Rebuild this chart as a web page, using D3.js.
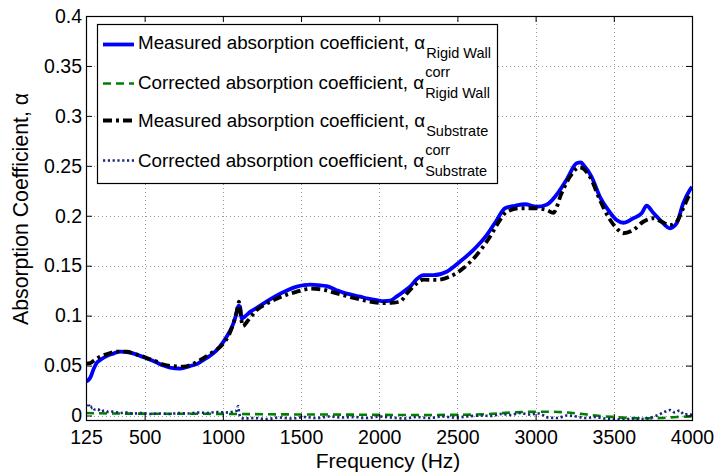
<!DOCTYPE html>
<html>
<head>
<meta charset="utf-8">
<script src="https://cdn.jsdelivr.net/npm/d3@7"></script>
<style>
  html, body { margin: 0; padding: 0; background: #fff; }
  svg { display: block; font-family: "Liberation Sans", Arial, Helvetica, sans-serif; }
</style>
</head>
<body>
<svg id="chart" width="716" height="473"></svg>
<script>
// Absorption coefficient vs frequency: rigid wall and substrate, measured and corrected.

const xTicks = [125, 500, 1000, 1500, 2000, 2500, 3000, 3500, 4000];
const yTicks = [0, 0.05, 0.1, 0.15, 0.2, 0.25, 0.3, 0.35, 0.4];
const yTickLabels = ["0", "0.05", "0.1", "0.15", "0.2", "0.25", "0.3", "0.35", "0.4"];

// Measured absorption coefficient, rigid wall
const freqRigid = [125, 151, 175, 193, 220, 257, 300, 342, 406, 450, 490, 540, 577, 620, 662, 726, 790, 840, 875, 920, 961, 1000, 1025, 1050, 1067, 1085, 1100, 1110, 1121, 1140, 1177, 1220, 1259, 1310, 1367, 1420, 1473, 1520, 1560, 1610, 1664, 1720, 1770, 1820, 1877, 1930, 1984, 2030, 2070, 2110, 2155, 2197, 2240, 2282, 2346, 2431, 2516, 2601, 2687, 2751, 2804, 2868, 2932, 3006, 3070, 3134, 3198, 3262, 3290, 3305, 3358, 3411, 3464, 3518, 3560, 3624, 3678, 3710, 3752, 3806, 3859, 3902, 3944, 3987, 4000];
const alphaRigid = [0.034, 0.0375, 0.047, 0.0525, 0.056, 0.0595, 0.062, 0.064, 0.063, 0.061, 0.0585, 0.0555, 0.053, 0.050, 0.048, 0.047, 0.0495, 0.052, 0.0555, 0.060, 0.0655, 0.073, 0.079, 0.086, 0.092, 0.101, 0.110, 0.109, 0.097, 0.099, 0.104, 0.108, 0.112, 0.117, 0.122, 0.126, 0.129, 0.1305, 0.131, 0.1305, 0.1295, 0.126, 0.123, 0.121, 0.119, 0.117, 0.1155, 0.1145, 0.115, 0.119, 0.124, 0.129, 0.1365, 0.1405, 0.1405, 0.144, 0.154, 0.1655, 0.1805, 0.1955, 0.2075, 0.210, 0.2115, 0.209, 0.211, 0.221, 0.236, 0.2525, 0.2535, 0.251, 0.239, 0.219, 0.2058, 0.1957, 0.193, 0.1975, 0.2025, 0.210, 0.203, 0.194, 0.1875, 0.1925, 0.2125, 0.226, 0.229];

// Corrected absorption coefficient, rigid wall
const freqRigidCorr = [125, 300, 600, 900, 1100, 1300, 1600, 1900, 2200, 2500, 2700, 2850, 3000, 3100, 3200, 3300, 3400, 3500, 3600, 3700, 3800, 3900, 4000];
const alphaRigidCorr = [0.0025, 0.002, 0.0018, 0.0017, 0.0015, 0.0012, 0.001, 0.0008, 0.0005, 0.0007, 0.0015, 0.003, 0.0038, 0.0038, 0.003, 0.0015, -0.0003, -0.0015, -0.0025, -0.0028, -0.0025, -0.0015, -0.001];

// Measured absorption coefficient, substrate
const freqSub = [125, 151, 180, 215, 260, 321, 385, 440, 491, 540, 577, 620, 670, 747, 800, 854, 920, 1003, 1040, 1067, 1090, 1103, 1115, 1127, 1160, 1216, 1280, 1344, 1410, 1473, 1520, 1560, 1642, 1700, 1770, 1830, 1898, 1960, 2026, 2090, 2133, 2176, 2218, 2282, 2367, 2452, 2537, 2623, 2708, 2772, 2815, 2900, 2985, 3070, 3113, 3166, 3219, 3283, 3347, 3411, 3464, 3518, 3560, 3624, 3688, 3752, 3806, 3859, 3902, 3944, 3987, 4000];
const alphaSub = [0.052, 0.0525, 0.0555, 0.059, 0.0615, 0.064, 0.064, 0.0615, 0.059, 0.056, 0.054, 0.051, 0.0495, 0.049, 0.051, 0.0555, 0.062, 0.072, 0.081, 0.092, 0.105, 0.114, 0.100, 0.0895, 0.095, 0.1055, 0.112, 0.117, 0.121, 0.124, 0.126, 0.127, 0.126, 0.1235, 0.1205, 0.118, 0.1155, 0.1135, 0.1125, 0.113, 0.114, 0.122, 0.129, 0.136, 0.1357, 0.139, 0.1474, 0.1607, 0.179, 0.1957, 0.204, 0.2075, 0.2075, 0.2058, 0.203, 0.2225, 0.239, 0.2485, 0.239, 0.2158, 0.199, 0.1875, 0.1825, 0.1857, 0.194, 0.1975, 0.194, 0.1907, 0.194, 0.2075, 0.2208, 0.222];

// Corrected absorption coefficient, substrate
const freqSubCorr = [125, 135, 145, 155, 165, 180, 200, 220, 245, 270, 300, 340, 380, 430, 480, 540, 600, 660, 720, 780, 840, 900, 960, 1020, 1070, 1090, 1097, 1105, 1115, 1140, 1200, 1280, 1360, 1440, 1520, 1600, 1680, 1760, 1840, 1920, 2000, 2080, 2160, 2240, 2320, 2400, 2480, 2560, 2640, 2720, 2780, 2840, 2900, 2960, 3020, 3080, 3140, 3200, 3260, 3320, 3380, 3440, 3500, 3560, 3620, 3680, 3740, 3790, 3830, 3860, 3890, 3920, 3950, 3980, 4000];
const alphaSubCorr = [0.011, 0.008, 0.01, 0.007, 0.009, 0.006, 0.0065, 0.004, 0.005, 0.0035, 0.004, 0.0025, 0.003, 0.002, 0.0025, 0.0015, 0.002, 0.0015, 0.0025, 0.002, 0.003, 0.0025, 0.0035, 0.003, 0.004, 0.005, 0.0095, 0.002, -0.002, -0.003, -0.0025, -0.0035, -0.002, -0.003, -0.0015, -0.0025, -0.001, -0.002, -0.0015, -0.0025, -0.001, -0.002, -0.003, -0.0015, -0.0025, -0.001, -0.002, -0.001, 0.0, -0.0005, 0.0015, 0.0005, 0.0025, 0.001, 0.002, -0.002, -0.0025, 0.0, -0.001, -0.0025, -0.0015, -0.003, -0.0035, -0.004, -0.003, -0.0035, -0.002, 0.001, 0.004, 0.0055, 0.003, 0.005, 0.001, 0.0015, 0.0];

const seriesLabels = [
  "Measured absorption coefficient, \u03b1",
  "Corrected absorption coefficient, \u03b1",
  "Measured absorption coefficient, \u03b1",
  "Corrected absorption coefficient, \u03b1"
];
const seriesSub = ["Rigid Wall", "Rigid Wall", "Substrate", "Substrate"];
const seriesSup = ["", "corr", "", "corr"];

(function draw() {
  const svg = d3.select("#chart");
  const plotLeft = 86, plotRight = 692, plotTop = 16, plotBottom = 420;

  const x = d3.scaleLinear().domain([125, 4000]).range([plotLeft, plotRight]);
  const y = d3.scaleLinear().domain([-0.0045, 0.4]).range([plotBottom, plotTop]);

  const series = [
    { f: freqRigid, a: alphaRigid, color: "#0000ff", width: 3.8, dash: null },
    { f: freqRigidCorr, a: alphaRigidCorr, color: "#008000", width: 2.6, dash: "8,5" },
    { f: freqSub, a: alphaSub, color: "#000000", width: 3.8, dash: "9,4,3,4" },
    { f: freqSubCorr, a: alphaSubCorr, color: "#15287a", width: 2.7, dash: "2.2,2.6" }
  ];

  // grid
  const grid = svg.append("g").attr("stroke", "#9a9a9a").attr("stroke-width", 1).attr("stroke-dasharray", "1,3");
  xTicks.slice(1, -1).forEach(t => {
    grid.append("line").attr("x1", Math.round(x(t)) + 0.5).attr("x2", Math.round(x(t)) + 0.5)
      .attr("y1", plotTop).attr("y2", plotBottom);
  });
  yTicks.slice(0, -1).forEach(t => {
    grid.append("line").attr("y1", Math.round(y(t)) + 0.5).attr("y2", Math.round(y(t)) + 0.5)
      .attr("x1", plotLeft).attr("x2", plotRight);
  });

  // clip region for the curves
  svg.append("clipPath").attr("id", "plotClip")
    .append("rect").attr("x", plotLeft).attr("y", plotTop)
    .attr("width", plotRight - plotLeft).attr("height", plotBottom - plotTop);

  const line = d3.line().curve(d3.curveMonotoneX);
  const curves = svg.append("g").attr("clip-path", "url(#plotClip)");
  series.forEach(s => {
    const pts = s.f.map((f, i) => [x(f), y(s.a[i])]);
    curves.append("path")
      .attr("d", line(pts))
      .attr("fill", "none")
      .attr("stroke", s.color)
      .attr("stroke-width", s.width)
      .attr("stroke-linejoin", "round")
      .attr("stroke-dasharray", s.dash);
  });

  // axes with inward ticks on all four sides
  const tickLen = 6;
  const tickFont = "19.5px";
  const xAxisB = d3.axisBottom(x).tickValues(xTicks).tickSizeInner(-tickLen).tickSizeOuter(0).tickPadding(10).tickFormat(d3.format("d"));
  const xAxisT = d3.axisTop(x).tickValues(xTicks).tickSizeInner(-tickLen).tickSizeOuter(0).tickFormat("");
  const yAxisL = d3.axisLeft(y).tickValues(yTicks).tickSizeInner(-tickLen).tickSizeOuter(0).tickPadding(4)
    .tickFormat((d, i) => yTickLabels[i]);
  const yAxisR = d3.axisRight(y).tickValues(yTicks).tickSizeInner(-tickLen).tickSizeOuter(0).tickFormat("");

  function styleAxis(g) {
    g.select(".domain").remove();
    g.selectAll(".tick line").attr("stroke", "#000").attr("stroke-width", 1);
    g.selectAll(".tick text").attr("fill", "#000").style("font-size", tickFont)
      .style("font-family", "'Liberation Sans', Arial, sans-serif");
  }
  svg.append("g").attr("transform", `translate(0,${plotBottom})`).call(xAxisB).call(styleAxis);
  svg.append("g").attr("transform", `translate(0,${plotTop})`).call(xAxisT).call(styleAxis);
  svg.append("g").attr("transform", `translate(${plotLeft},0)`).call(yAxisL).call(styleAxis);
  svg.append("g").attr("transform", `translate(${plotRight},0)`).call(yAxisR).call(styleAxis);

  // plot frame
  svg.append("rect").attr("x", plotLeft + 0.5).attr("y", plotTop + 0.5)
    .attr("width", plotRight - plotLeft).attr("height", plotBottom - plotTop)
    .attr("fill", "none").attr("stroke", "#000").attr("stroke-width", 1.2);

  // axis titles
  svg.append("text").attr("x", 388).attr("y", 468)
    .attr("text-anchor", "middle").style("font-size", "21px").text("Frequency (Hz)");
  svg.append("text").attr("transform", "translate(28,209) rotate(-90)")
    .attr("text-anchor", "middle").style("font-size", "21.3px").text("Absorption Coefficient, \u03b1");

  // legend
  const legend = svg.append("g");
  legend.append("rect").attr("x", 97.5).attr("y", 24.5).attr("width", 400).attr("height", 159)
    .attr("fill", "#fff").attr("stroke", "#000").attr("stroke-width", 1.2);
  const rowY = [44.5, 83.5, 120.5, 160.5];
  const baseOff = [4, 5, 6, 6];
  series.forEach((s, i) => {
    legend.append("line").attr("x1", 103).attr("x2", 134).attr("y1", rowY[i]).attr("y2", rowY[i])
      .attr("stroke", s.color).attr("stroke-width", s.width).attr("stroke-dasharray", s.dash);
    const base = rowY[i] + baseOff[i];
    const t = legend.append("text").attr("x", 138).attr("y", base).style("font-size", "18.8px").text(seriesLabels[i]);
    const w = t.node().getComputedTextLength();
    legend.append("text").attr("x", 138 + w + 1).attr("y", base + 9)
      .style("font-size", "14.5px").text(seriesSub[i]);
    if (seriesSup[i]) {
      legend.append("text").attr("x", 138 + w + 1).attr("y", base - 11.5)
        .style("font-size", "14.5px").text(seriesSup[i]);
    }
  });
})();
</script>
</body>
</html>
